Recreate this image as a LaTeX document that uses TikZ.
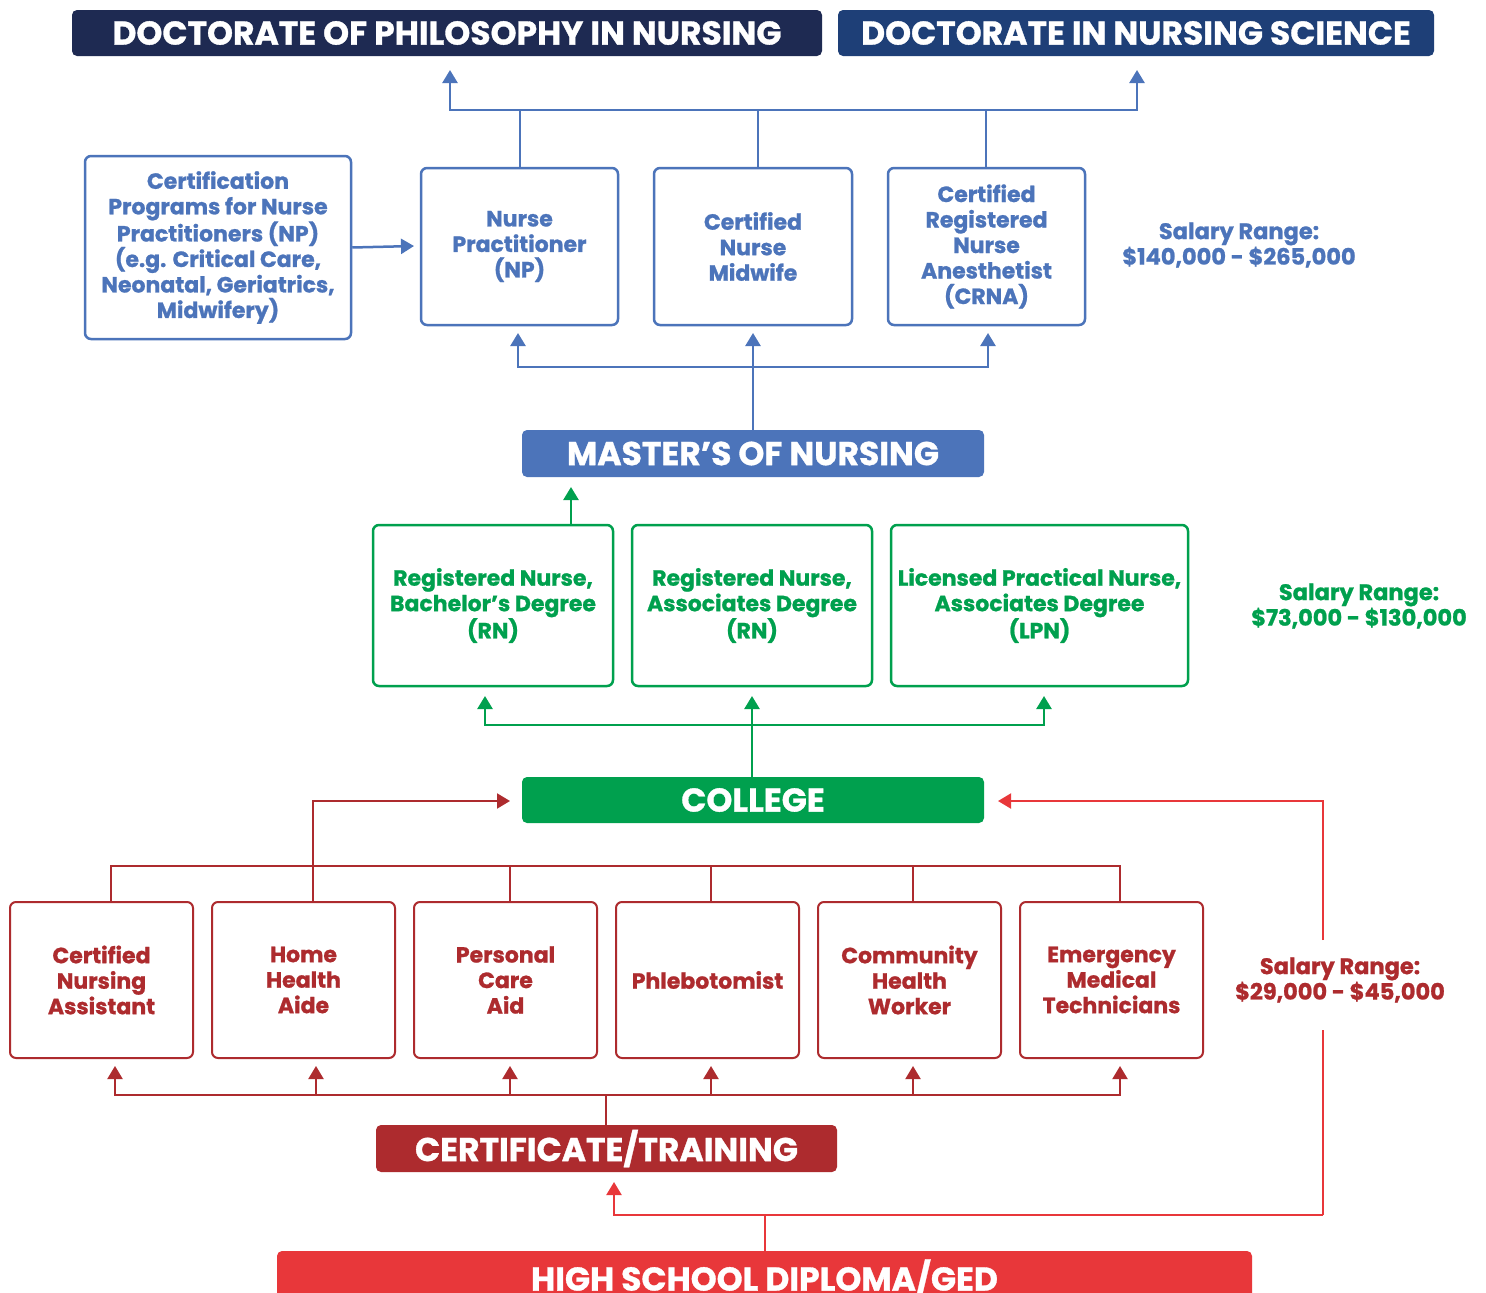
\documentclass[tikz,border=0pt]{standalone}
\usepackage{fontspec}
\setmainfont{Poppins}[BoldFeatures={FakeBold=1}]
\newfontfamily\hdfont{Poppins}[BoldFeatures={FakeBold=1}]
\usetikzlibrary{arrows.meta,calc}
\definecolor{navyA}{HTML}{1E2A52}
\definecolor{navyB}{HTML}{1E3F77}
\definecolor{bl}{HTML}{4C74BA}
\definecolor{gr}{HTML}{00A04E}
\definecolor{rd}{HTML}{AD2B2E}
\definecolor{rb}{HTML}{E8373A}
\tikzset{
  boxtxt/.style={font=\bfseries\fontsize{22}{25.5}\selectfont, align=center},
  bbox/.style={boxtxt, draw=bl, text=bl, line width=2.5pt, rounded corners=6pt, inner sep=0pt},
  gbox/.style={boxtxt, draw=gr, text=gr, line width=2.5pt, rounded corners=6pt, inner sep=0pt},
  rbox/.style={boxtxt, draw=rd, text=rd, line width=2pt, rounded corners=6pt, inner sep=0pt},
  hdr/.style={font=\hdfont\bfseries\fontsize{33}{33}\selectfont, text=white, rounded corners=5pt, inner sep=0pt},
  bline/.style={draw=bl, line width=2.5pt},
  gline/.style={draw=gr, line width=2.5pt},
  rline/.style={draw=rd, line width=2pt},
  rbline/.style={draw=rb, line width=2pt},
  tip/.style={-{Triangle[width=15pt,length=13pt]}},
  sal/.style={font=\bfseries\fontsize{22.5}{25.5}\selectfont, align=center},
}
\begin{document}
\begin{tikzpicture}[x=1pt,y=-1pt]
\useasboundingbox (0,0) rectangle (1486,1293);
\fill[white] (0,0) rectangle (1486,1293);

% headers
\node[hdr, fill=navyA, minimum width=750pt, minimum height=46pt] (phd) at (447,33) {DOCTORATE OF PHILOSOPHY IN NURSING};
\node[hdr, fill=navyB, minimum width=596pt, minimum height=46pt] (dns) at (1136,33) {DOCTORATE IN NURSING SCIENCE};

% blue boxes
\node[bbox, minimum width=266pt, minimum height=183pt] (cert) at (218,247.5) {Certification\\Programs for Nurse\\Practitioners (NP)\\(e.g. Critical Care,\\Neonatal, Geriatrics,\\Midwifery)};
\node[bbox, minimum width=197pt, minimum height=157pt] (np) at (519.5,246.5) {Nurse\\Practitioner\\(NP)};
\node[bbox, minimum width=198pt, minimum height=157pt] (cnm) at (753,246.5) {Certified\\Nurse\\Midwife};
\node[bbox, minimum width=197pt, minimum height=157pt] (crna) at (986.5,246.5) {Certified\\Registered\\Nurse\\Anesthetist\\(CRNA)};
\node[sal, text=bl] (salb) at (1239,245) {Salary Range:\\\$140,000 - \$265,000};

\node[hdr, fill=bl, minimum width=462pt, minimum height=47pt] (msn) at (753,453.5) {MASTER’S OF NURSING};

% green boxes
\node[gbox, minimum width=240pt, minimum height=161pt] (rnb) at (493,605.5) {Registered Nurse,\\Bachelor’s Degree\\(RN)};
\node[gbox, minimum width=240pt, minimum height=161pt] (rna) at (752,605.5) {Registered Nurse,\\Associates Degree\\(RN)};
\node[gbox, minimum width=297pt, minimum height=161pt] (lpn) at (1039.5,605.5) {Licensed Practical Nurse,\\Associates Degree\\(LPN)};
\node[sal, text=gr] (salg) at (1359,606) {Salary Range:\\\$73,000 - \$130,000};

\node[hdr, fill=gr, minimum width=462pt, minimum height=46pt] (col) at (753,800) {COLLEGE};

% red boxes
\node[rbox, minimum width=183pt, minimum height=156pt] (cna) at (101.5,980) {Certified\\Nursing\\Assistant};
\node[rbox, minimum width=183pt, minimum height=156pt] (hha) at (303.5,980) {Home\\Health\\Aide};
\node[rbox, minimum width=183pt, minimum height=156pt] (pca) at (505.5,980) {Personal\\Care\\Aid};
\node[rbox, minimum width=183pt, minimum height=156pt] (phl) at (707.5,980) {Phlebotomist};
\node[rbox, minimum width=183pt, minimum height=156pt] (chw) at (909.5,980) {Community\\Health\\Worker};
\node[rbox, minimum width=183pt, minimum height=156pt] (emt) at (1111.5,980) {Emergency\\Medical\\Technicians};
\node[sal, text=rd] (salr) at (1340,980) {Salary Range:\\\$29,000 - \$45,000};

\node[hdr, fill=rd, minimum width=461pt, minimum height=47pt] (ct) at (606.5,1148.5) {CERTIFICATE/TRAINING};
\node[hdr, fill=rb, minimum width=975pt, minimum height=48pt] (hs) at (764.5,1275) {};
\node[font=\hdfont\bfseries\fontsize{33}{33}\selectfont, text=white] (hst) at (764.5,1278) {HIGH SCHOOL DIPLOMA/GED};

% ---- blue connectors (top)
\coordinate (t1) at (450,70);
\coordinate (t2) at (1137,70);
\coordinate (bus1) at (0,110);
\draw[bline, {Triangle[width=15pt,length=13pt]}-{Triangle[width=15pt,length=13pt]}] (t1) -- (t1 |- bus1) -- (t2 |- bus1) -- (t2);
\draw[bline] (np.north -| 520,0) -- (520,110);
\draw[bline] (cnm.north -| 758,0) -- (758,110);
\draw[bline] (crna.north -| 986,0) -- (986,110);

\draw[bline, tip] (cert.east) -- (414,246);

\coordinate (m1) at (518,333);
\coordinate (m2) at (753,333);
\coordinate (m3) at (988,333);
\coordinate (bus2) at (0,367);
\draw[bline, {Triangle[width=15pt,length=13pt]}-{Triangle[width=15pt,length=13pt]}] (m1) -- (m1 |- bus2) -- (m3 |- bus2) -- (m3);
\draw[bline, tip] (msn.north) -- (m2);

% ---- green connectors
\draw[gline, tip] (rnb.north -| 571,0) -- (571,487);
\coordinate (g1) at (485,696);
\coordinate (g2) at (752,696);
\coordinate (g3) at (1044,696);
\coordinate (bus3) at (0,725);
\draw[gline, {Triangle[width=15pt,length=13pt]}-{Triangle[width=15pt,length=13pt]}] (g1) -- (g1 |- bus3) -- (g3 |- bus3) -- (g3);
\draw[gline, tip] (col.north -| 752,0) -- (g2);

% ---- red connectors
\draw[rline] (cna.north -| 111,0) -- (111,866) -- (1120,866) -- (emt.north -| 1120,0);
\draw[rline] (pca.north -| 510,0) -- (510,866);
\draw[rline] (phl.north -| 711,0) -- (711,866);
\draw[rline] (chw.north -| 913,0) -- (913,866);
\draw[rline, tip] (hha.north -| 313,0) -- (313,801) -- (510,801);

\coordinate (bus5) at (0,1095);
\coordinate (r1) at (115,1066);
\coordinate (r6) at (1120,1066);
\draw[rline, {Triangle[width=15pt,length=13pt]}-{Triangle[width=15pt,length=13pt]}] (r1) -- (r1 |- bus5) -- (r6 |- bus5) -- (r6);
\foreach \xx in {316,510,711,913} \draw[rline, tip] (\xx,1095) -- (\xx,1066);
\draw[rline] (ct.north -| 606,0) -- (606,1095);

% ---- bright red connectors
\draw[rbline] (hs.north -| 765,0) -- (765,1215);
\draw[rbline, tip] (1323,1215) -- (614,1215) -- (614,1182);
\draw[rbline] (1323,1215) -- (1323,1030);
\draw[rbline, tip] (1323,940) -- (1323,801) -- (998,801);
\end{tikzpicture}
\end{document}
